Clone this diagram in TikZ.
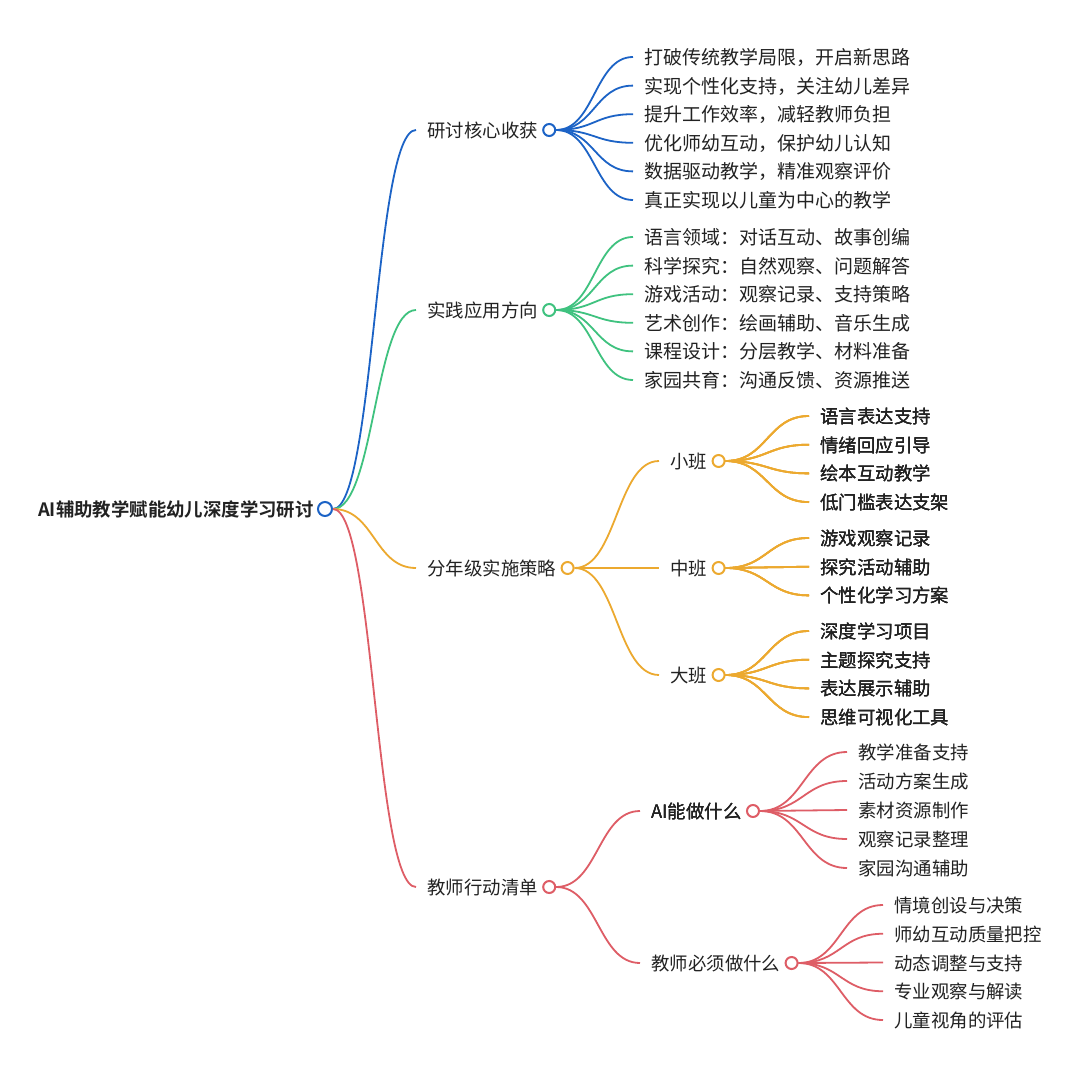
\documentclass[tikz,border=0pt]{standalone}
\usepackage{fontspec}
\setmainfont{Noto Sans CJK SC}
\newfontfamily\rootfont{Noto Sans CJK SC Bold}
\usepackage{tikz}
\usetikzlibrary{positioning,calc}
\definecolor{mmblue}{HTML}{1C63C6}
\definecolor{mmgreen}{HTML}{3FC27F}
\definecolor{mmorange}{HTML}{ECA92F}
\definecolor{mmred}{HTML}{DE5D66}
\definecolor{mmtext}{HTML}{222222}
\tikzset{
  txt/.style={anchor=west,inner xsep=5.5pt,inner ysep=0pt,text height=0.75em,text depth=0pt,
    font=\fontsize{9.2}{11}\selectfont,text=mmtext},
  wide/.style={txt,font=\fontsize{9.5}{11}\selectfont},
  dot/.style={circle,draw,fill=white,line width=1pt,minimum size=6pt,inner sep=0pt},
  link/.style={line width=0.9pt},
}
\newcommand{\mmlink}[3]{\draw[link,#1] let \p1=(#2), \p2=(#3) in
  (\p1) .. controls ({(\x1+\x2)/2},\y1) and ({(\x1+\x2)/2},\y2) .. (\p2);}

\begin{document}
\begin{tikzpicture}[x=0.5pt,y=-0.5pt]
\fill[white] (0,0) rectangle (1080,1080);
\useasboundingbox (0,0) rectangle (1080,1080);
% first level
\node[txt] (core) at (416,130) {研讨核心收获};
\node[dot,draw=mmblue] (core-c) at (core.east) {};
\node[txt] (apply) at (416,310) {实践应用方向};
\node[dot,draw=mmgreen] (apply-c) at (apply.east) {};
\node[txt] (grade) at (416,568) {分年级实施策略};
\node[dot,draw=mmorange] (grade-c) at (grade.east) {};
\node[txt] (action) at (416,887) {教师行动清单};
\node[dot,draw=mmred] (action-c) at (action.east) {};
% core gains
\foreach \t [count=\i from 0] in {打破传统教学局限，开启新思路,实现个性化支持，关注幼儿差异,
  提升工作效率，减轻教师负担,优化师幼互动，保护幼儿认知,数据驱动教学，精准观察评价,真正实现以儿童为中心的教学}{
  \node[wide] (core\i) at (633,57+28.6*\i) {\t};
  \mmlink{mmblue}{core-c.east}{core\i.west}
}
% practice
\foreach \t [count=\i from 0] in {语言领域：对话互动、故事创编,科学探究：自然观察、问题解答,游戏活动：观察记录、支持策略,
  艺术创作：绘画辅助、音乐生成,课程设计：分层教学、材料准备,家园共育：沟通反馈、资源推送}{
  \node[wide] (apply\i) at (633,237+28.6*\i) {\t};
  \mmlink{mmgreen}{apply-c.east}{apply\i.west}
}
% grades
\node[txt] (small) at (659,461) {小班};
\node[dot,draw=mmorange] (small-c) at (small.east) {};
\node[txt] (mid) at (659,568) {中班};
\node[dot,draw=mmorange] (mid-c) at (mid.east) {};
\node[txt] (big) at (659,675) {大班};
\node[dot,draw=mmorange] (big-c) at (big.east) {};
\foreach \g in {small,mid,big}
  \mmlink{mmorange}{grade-c.east}{\g.west}
\foreach \t [count=\i from 0] in {语言表达支持,情绪回应引导,绘本互动教学,低门槛表达支架}{
  \node[txt] (small\i) at (809,416+28.7*\i) {\t};
  \mmlink{mmorange}{small-c.east}{small\i.west}
}
\foreach \t [count=\i from 0] in {游戏观察记录,探究活动辅助,个性化学习方案}{
  \node[txt] (mid\i) at (809,538+28.7*\i) {\t};
  \mmlink{mmorange}{mid-c.east}{mid\i.west}
}
\foreach \t [count=\i from 0] in {深度学习项目,主题探究支持,表达展示辅助,思维可视化工具}{
  \node[txt] (big\i) at (809,631+28.7*\i) {\t};
  \mmlink{mmorange}{big-c.east}{big\i.west}
}
% teacher actions
\node[txt] (ai) at (640,811) {AI能做什么};
\node[dot,draw=mmred] (ai-c) at (ai.east) {};
\node[txt] (must) at (640,963) {教师必须做什么};
\node[dot,draw=mmred] (must-c) at (must.east) {};
\mmlink{mmred}{action-c.east}{ai.west}
\mmlink{mmred}{action-c.east}{must.west}
\foreach \t [count=\i from 0] in {教学准备支持,活动方案生成,素材资源制作,观察记录整理,家园沟通辅助}{
  \node[txt] (ai\i) at (847,752+29*\i) {\t};
  \mmlink{mmred}{ai-c.east}{ai\i.west}
}
\foreach \t [count=\i from 0] in {情境创设与决策,师幼互动质量把控,动态调整与支持,专业观察与解读,儿童视角的评估}{
  \node[txt] (must\i) at (883,905+28.75*\i) {\t};
  \mmlink{mmred}{must-c.east}{must\i.west}
}
% root
\node[txt,anchor=east,font=\fontsize{9.2}{11}\selectfont\rootfont] (root) at (325,509) {AI辅助教学赋能幼儿深度学习研讨};
\node[dot,draw=mmblue,minimum size=7pt] (root-c) at (root.east) {};
\mmlink{mmblue}{root-c.east}{core.west}
\mmlink{mmgreen}{root-c.east}{apply.west}
\mmlink{mmorange}{root-c.east}{grade.west}
\mmlink{mmred}{root-c.east}{action.west}
\end{tikzpicture}
\end{document}
